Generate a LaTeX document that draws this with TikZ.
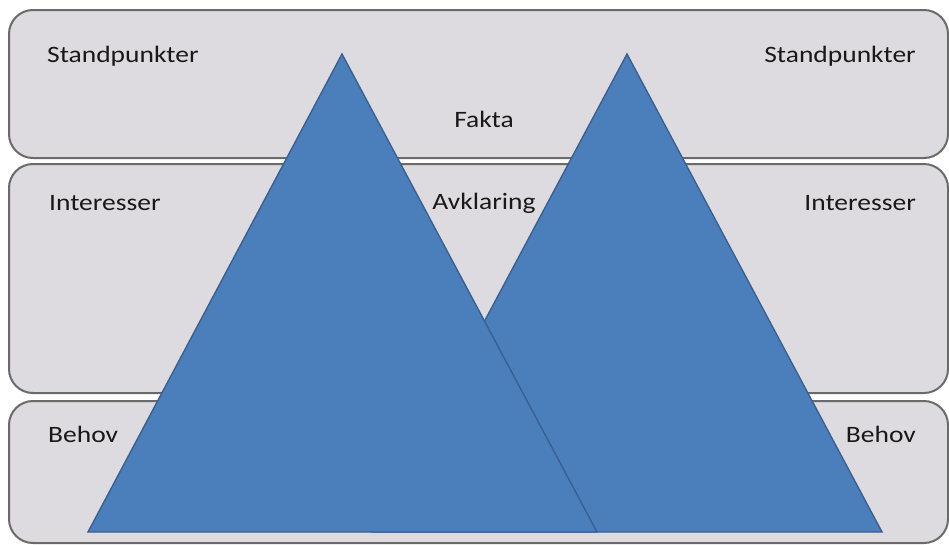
\documentclass[tikz,border=0pt]{standalone}
\usepackage{fontspec}
\setmainfont{Carlito}[FakeStretch=1.17]
\definecolor{bandfill}{HTML}{DDDBDF}
\definecolor{bandline}{HTML}{6A6A6A}
\definecolor{peakfill}{HTML}{4A7FBB}
\definecolor{peakline}{HTML}{3A6090}
\tikzset{
  band/.style={fill=bandfill, draw=bandline, line width=2pt, rounded corners=24pt},
  peak/.style={fill=peakfill, draw=peakline, line width=1.4pt, line join=miter},
  lbl/.style={inner sep=0pt, font=\fontsize{23.5}{28}\selectfont, text=black!90},
}
\begin{document}
\begin{tikzpicture}[x=1pt, y=-1pt]
  \useasboundingbox (0,0) rectangle (949,544);
  % three horizontal bands
  \draw[band] (9,10) rectangle (948,158);
  \draw[band] (9,164) rectangle (948,393);
  \draw[band] (9,401) rectangle (948,543);
  % band labels
  \node[lbl, anchor=base west] (stL) at (47,62) {Standpunkter};
  \node[lbl, anchor=base east] (stR) at (916,62) {Standpunkter};
  \node[lbl, anchor=base] (fakta) at (484,127) {Fakta};
  \node[lbl, anchor=base west] (inL) at (49,210) {Interesser};
  \node[lbl, anchor=base east] (inR) at (916,210) {Interesser};
  \node[lbl, anchor=base] (avk) at (484,209) {Avklaring};
  \node[lbl, anchor=base west] (beL) at (48,442) {Behov};
  \node[lbl, anchor=base east] (beR) at (916,442) {Behov};
  % two overlapping peaks, the right one behind
  \draw[peak] (627,54) -- (882,532) -- (372,532) -- cycle;
  \draw[peak] (342,54) -- (597,532) -- (88,532) -- cycle;
\end{tikzpicture}
\end{document}
